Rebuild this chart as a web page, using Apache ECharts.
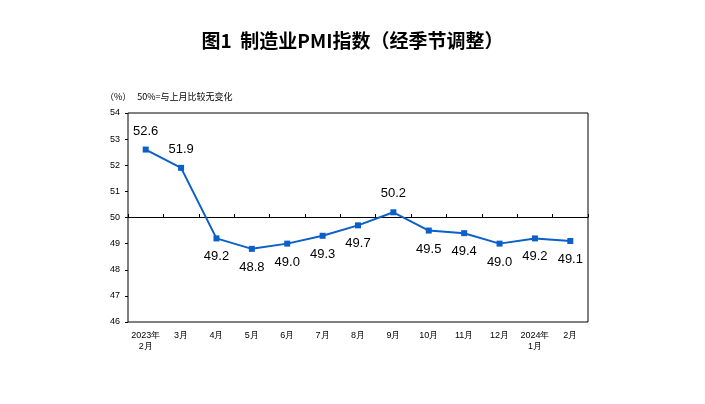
<!DOCTYPE html>
<html>
<head>
<meta charset="utf-8">
<script src="https://cdn.jsdelivr.net/npm/echarts@6/dist/echarts.min.js"></script>
<style>html,body{margin:0;padding:0;background:#fff}#main{width:705px;height:404px}</style>
</head>
<body>
<div id="main"></div>
<script>
var months = ['2023年\n2月', '3月', '4月', '5月', '6月', '7月', '8月', '9月', '10月', '11月', '12月', '2024年\n1月', '2月'];
var pmi = [52.6, 51.9, 49.2, 48.8, 49.0, 49.3, 49.7, 50.2, 49.5, 49.4, 49.0, 49.2, 49.1];
var abovePts = [0, 1, 7];

var chart = echarts.init(document.getElementById('main'));
var option = {
    animation: false,
    title: [
        {
            text: '图1  制造业PMI指数（经季节调整）',
            left: 'center',
            top: 26,
            textStyle: {fontSize: 19, fontWeight: 'bold', color: '#000', fontFamily: 'Noto Sans CJK SC'}
        },
        {
            text: '（%）   50%=与上月比较无变化',
            left: 100,
            top: 87,
            textStyle: {fontSize: 9, fontWeight: 'normal', color: '#000', fontFamily: 'Noto Sans CJK SC'}
        }
    ],
    grid: [
        {show: true, left: 128, right: 117, top: 113, bottom: 82, borderColor: '#000', borderWidth: 1},
        // upper half only, so its x axis lies on the 50 line
        {left: 128, right: 117, top: 113, bottom: 187}
    ],
    xAxis: [
        {
            type: 'category',
            data: months,
            boundaryGap: true,
            axisLine: {show: false},
            axisTick: {show: false},
            axisLabel: {fontSize: 9, color: '#000', lineHeight: 11, margin: 8, interval: 0}
        },
        {
            type: 'category',
            gridIndex: 1,
            data: months,
            boundaryGap: true,
            axisLine: {show: true, lineStyle: {color: '#000', width: 1}},
            axisTick: {show: true, inside: true, length: 3, interval: 0, lineStyle: {color: '#000'}},
            axisLabel: {show: false}
        }
    ],
    yAxis: [
        {
            type: 'value',
            min: 46,
            max: 54,
            interval: 1,
            splitLine: {show: false},
            axisLine: {show: false},
            axisTick: {show: true, length: 3, lineStyle: {color: '#000'}},
            axisLabel: {fontSize: 9, color: '#000', margin: 8}
        },
        {
            type: 'value',
            gridIndex: 1,
            min: 50,
            max: 54,
            show: false
        }
    ],
    series: [{
        type: 'line',
        data: pmi.map(function (v, i) {
            return {
                value: v,
                label: {position: abovePts.indexOf(i) >= 0 ? 'top' : 'bottom'}
            };
        }),
        symbol: 'rect',
        symbolSize: 6,
        lineStyle: {color: '#0a60c8', width: 2},
        itemStyle: {color: '#0a60c8'},
        label: {
            show: true,
            fontSize: 13,
            color: '#000',
            fontFamily: 'Liberation Sans',
            distance: 9,
            formatter: function (p) { return p.value.toFixed(1); }
        }
    }]
};
chart.setOption(option, true);
</script>
</body>
</html>
